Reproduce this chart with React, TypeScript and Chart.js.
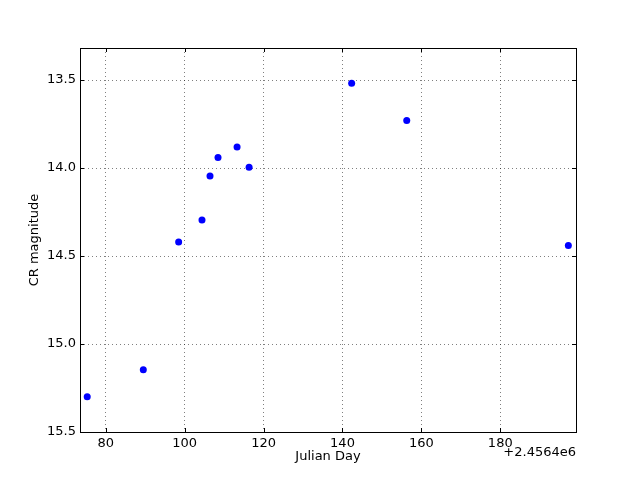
import React, { useEffect, useRef } from "react";
import { Chart, registerables } from "chart.js";

Chart.register(...registerables);

const julianDay: number[] = [75.28, 89.5, 98.46, 104.38, 106.41, 108.44, 113.27, 116.32, 142.32, 156.29, 197.26];
const crMagnitude: number[] = [15.3, 15.146, 14.42, 14.296, 14.046, 13.94, 13.88, 13.995, 13.518, 13.73, 14.44];
const xTicks: number[] = [80, 100, 120, 140, 160, 180];
const yTicks: number[] = [13.5, 14.0, 14.5, 15.0, 15.5];
const xTitle = "Julian Day";
const yTitle = "CR magnitude";
const offsetText = "+2.4564e6";

const FONT = "DejaVu Sans";

const framePlugin = {
  id: "mplFrame",
  afterDraw(chart: any) {
    const { ctx, chartArea: a, scales } = chart;
    ctx.save();
    ctx.strokeStyle = "#000";
    ctx.lineWidth = 1;
    const tl = 4;
    ctx.beginPath();
    for (const v of xTicks) {
      const px = Math.round(scales.x.getPixelForValue(v)) + 0.5;
      ctx.moveTo(px, a.bottom);
      ctx.lineTo(px, a.bottom - tl);
      ctx.moveTo(px, a.top);
      ctx.lineTo(px, a.top + tl);
    }
    for (const v of yTicks) {
      const py = Math.round(scales.y.getPixelForValue(v)) + 0.5;
      ctx.moveTo(a.left, py);
      ctx.lineTo(a.left + tl, py);
      ctx.moveTo(a.right, py);
      ctx.lineTo(a.right - tl, py);
    }
    ctx.stroke();
    ctx.strokeRect(Math.round(a.left) + 0.5, Math.round(a.top) + 0.5, Math.round(a.right - a.left), Math.round(a.bottom - a.top));
    ctx.fillStyle = "#000";
    ctx.font = `13px '${FONT}'`;
    ctx.textAlign = "center";
    ctx.textBaseline = "middle";
    ctx.fillText(xTitle, (a.left + a.right) / 2, 457);
    ctx.textAlign = "right";
    ctx.fillText(offsetText, a.right, 453);
    ctx.save();
    ctx.translate(35, (a.top + a.bottom) / 2);
    ctx.rotate(-Math.PI / 2);
    ctx.textAlign = "center";
    ctx.fillText(yTitle, 0, 0);
    ctx.restore();
    ctx.restore();
  },
};

export default function App() {
  const ref = useRef<HTMLCanvasElement | null>(null);
  useEffect(() => {
    if (!ref.current) return;
    const chart = new Chart(ref.current, {
      type: "scatter",
      data: {
        datasets: [
          {
            data: julianDay.map((x, i) => ({ x, y: crMagnitude[i] })),
            backgroundColor: "#0000ff",
            borderWidth: 0,
            pointRadius: 3.5,
          },
        ],
      },
      options: {
        responsive: false,
        animation: false,
        layout: { padding: { top: 48, right: 64, left: 0, bottom: 0 } },
        plugins: { legend: { display: false }, tooltip: { enabled: false } },
        scales: {
          x: {
            type: "linear",
            min: 73.45,
            max: 199.2,
            afterBuildTicks: (s: any) => {
              s.ticks = xTicks.map((v) => ({ value: v }));
            },
            afterFit: (s: any) => {
              s.height = 48;
            },
            grid: { color: "rgba(0,0,0,0.5)", lineWidth: 1, drawTicks: false },
            border: { display: false, dash: [1, 3] },
            ticks: {
              color: "#000",
              font: { family: FONT, size: 13 },
              padding: 4,
              maxRotation: 0,
              callback: (v: any) => String(v),
            },
          },
          y: {
            type: "linear",
            reverse: true,
            min: 13.318,
            max: 15.5,
            afterBuildTicks: (s: any) => {
              s.ticks = yTicks.map((v) => ({ value: v }));
            },
            afterFit: (s: any) => {
              s.width = 80;
            },
            grid: { color: "rgba(0,0,0,0.5)", lineWidth: 1, drawTicks: false },
            border: { display: false, dash: [1, 3] },
            ticks: {
              color: "#000",
              font: { family: FONT, size: 13 },
              padding: 4,
              callback: (v: any) => Number(v).toFixed(1),
            },
          },
        },
      },
      plugins: [framePlugin],
    });
    return () => chart.destroy();
  }, []);
  return (
    <div style={{ position: "absolute", left: 0, top: 0, width: 640, height: 480, background: "#fff" }}>
      <canvas ref={ref} width={640} height={480} />
    </div>
  );
}
